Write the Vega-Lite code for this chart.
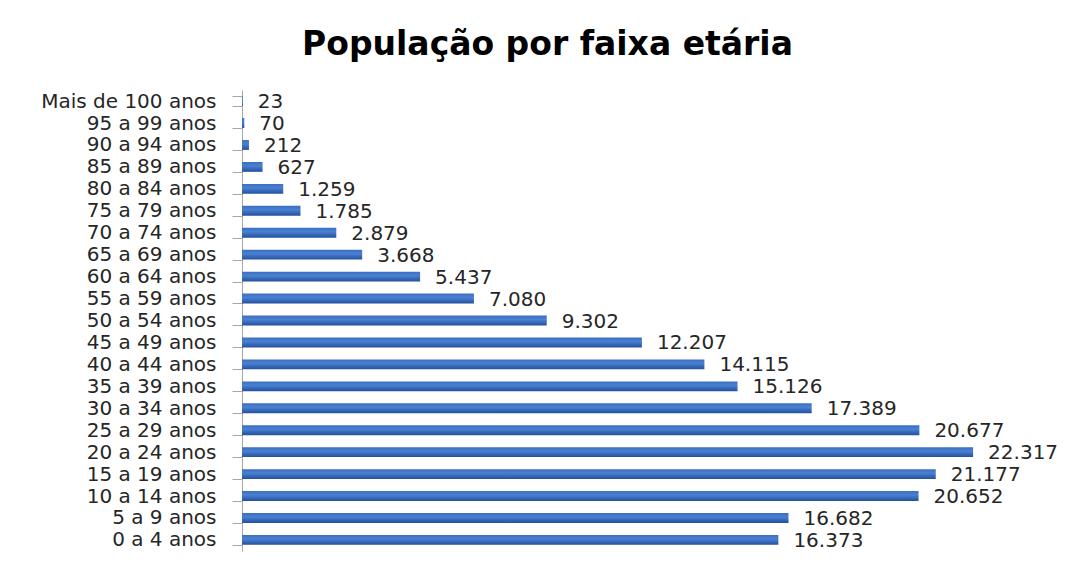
{
  "$schema": "https://vega.github.io/schema/vega-lite/v6.json",
  "width": 819,
  "height": 461,
  "autosize": "none",
  "padding": {"left": 242, "top": 90, "right": 20, "bottom": 14},
  "background": "white",
  "title": {
    "text": "População por faixa etária",
    "font": "DejaVu Sans",
    "fontSize": 33,
    "fontWeight": "bold",
    "color": "#000000",
    "anchor": "middle",
    "dx": -104,
    "offset": 18
  },
  "data": {
    "values": [
      {"faixa": "Mais de 100 anos", "pop": 23, "label": "23"},
      {"faixa": "95 a 99 anos", "pop": 70, "label": "70"},
      {"faixa": "90 a 94 anos", "pop": 212, "label": "212"},
      {"faixa": "85 a 89 anos", "pop": 627, "label": "627"},
      {"faixa": "80 a 84 anos", "pop": 1259, "label": "1.259"},
      {"faixa": "75 a 79 anos", "pop": 1785, "label": "1.785"},
      {"faixa": "70 a 74 anos", "pop": 2879, "label": "2.879"},
      {"faixa": "65 a 69 anos", "pop": 3668, "label": "3.668"},
      {"faixa": "60 a 64 anos", "pop": 5437, "label": "5.437"},
      {"faixa": "55 a 59 anos", "pop": 7080, "label": "7.080"},
      {"faixa": "50 a 54 anos", "pop": 9302, "label": "9.302"},
      {"faixa": "45 a 49 anos", "pop": 12207, "label": "12.207"},
      {"faixa": "40 a 44 anos", "pop": 14115, "label": "14.115"},
      {"faixa": "35 a 39 anos", "pop": 15126, "label": "15.126"},
      {"faixa": "30 a 34 anos", "pop": 17389, "label": "17.389"},
      {"faixa": "25 a 29 anos", "pop": 20677, "label": "20.677"},
      {"faixa": "20 a 24 anos", "pop": 22317, "label": "22.317"},
      {"faixa": "15 a 19 anos", "pop": 21177, "label": "21.177"},
      {"faixa": "10 a 14 anos", "pop": 20652, "label": "20.652"},
      {"faixa": "5 a 9 anos", "pop": 16682, "label": "16.682"},
      {"faixa": "0 a 4 anos", "pop": 16373, "label": "16.373"}
    ]
  },
  "encoding": {
    "y": {
      "field": "faixa",
      "type": "nominal",
      "sort": null,
      "scale": {"paddingInner": 0.55, "paddingOuter": 0.28},
      "axis": {
        "title": null,
        "labelFont": "DejaVu Sans",
        "labelFontSize": 20,
        "labelColor": "#262626",
        "labelPadding": 16,
        "tickSize": 10,
        "tickColor": "#a6a6a6",
        "domainColor": "#a6a6a6",
        "tickBand": "extent",
        "labelLimit": 300
      }
    },
    "x": {
      "field": "pop",
      "type": "quantitative",
      "scale": {"domain": [0, 25000], "nice": false},
      "axis": null
    }
  },
  "layer": [
    {
      "mark": {
        "type": "bar",
        "color": {
          "gradient": "linear",
          "x1": 0, "y1": 0, "x2": 0, "y2": 1,
          "stops": [
            {"offset": 0, "color": "#3b6fc0"},
            {"offset": 0.4, "color": "#4a80d2"},
            {"offset": 1, "color": "#23509c"}
          ]
        }
      }
    },
    {
      "mark": {
        "type": "text",
        "align": "left",
        "baseline": "middle",
        "dx": 15,
        "dy": 1,
        "font": "DejaVu Sans",
        "fontSize": 20,
        "color": "#262626"
      },
      "encoding": {"text": {"field": "label"}}
    }
  ],
  "config": {"view": {"stroke": null}}
}
